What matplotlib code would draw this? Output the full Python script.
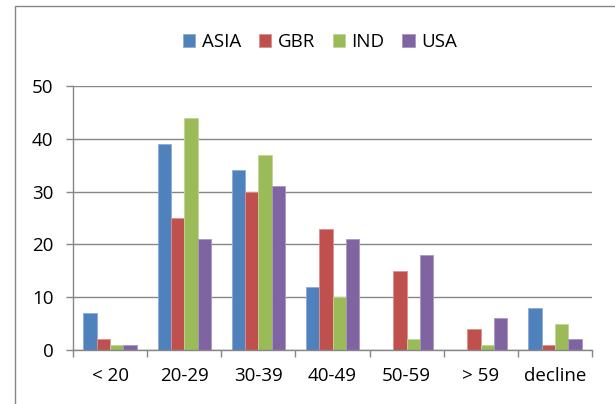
import matplotlib
matplotlib.use("Agg")
import matplotlib.pyplot as plt
import numpy as np
from matplotlib.patches import Rectangle

plt.rcParams['font.family'] = ['Open Sans', 'DejaVu Sans']

categories = ["< 20", "20-29", "30-39", "40-49", "50-59", "> 59", "decline"]
series_names = ["ASIA", "GBR", "IND", "USA"]
asia = [7, 39, 34, 12, 0, 0, 8]
gbr = [2, 25, 30, 23, 15, 4, 1]
ind = [1, 44, 37, 10, 2, 1, 5]
usa = [1, 21, 31, 21, 18, 6, 2]
values = [asia, gbr, ind, usa]
colors = ["#4F81BD", "#C0504D", "#9BBB59", "#8064A2"]
edges = ["#8EAAD8", "#D89290", "#C0D69A", "#A995C4"]
yticks = [0, 10, 20, 30, 40, 50]

W, H = 615, 404
fig = plt.figure(figsize=(W / 100, H / 100), dpi=100)
ax = fig.add_axes([73 / W, 1 - 350 / H, (592 - 73) / W, (350 - 86) / H])

x = np.arange(len(categories))
bw = 0.18
for i, (vals, c, e, name) in enumerate(zip(values, colors, edges, series_names)):
    ax.bar(x + (i - 1.5) * bw, vals, width=bw, color=c, edgecolor=e,
           linewidth=0.6, label=name, zorder=3)

ax.set_xlim(-0.5, len(categories) - 0.5)
ax.set_ylim(0, 50)
ax.set_yticks(yticks)
ax.set_xticks(np.arange(len(categories) + 1) - 0.5, minor=True)
ax.set_xticks(x)
ax.set_xticklabels(categories)
ax.tick_params(axis='x', which='major', length=0, pad=12, labelsize=13.5)
ax.tick_params(axis='x', which='minor', length=5, width=1, color='#868686')
ax.tick_params(axis='y', length=5, width=1, color='#868686', pad=9, labelsize=13.5)
ax.grid(axis='y', color='#868686', linewidth=1, zorder=0)
for s in ['top', 'right']:
    ax.spines[s].set_visible(False)
for s in ['left', 'bottom']:
    ax.spines[s].set_color('#868686')
    ax.spines[s].set_linewidth(1)
    ax.spines[s].set_zorder(4)

handles, labels = ax.get_legend_handles_labels()
fig.legend(handles, labels, loc='center', bbox_to_anchor=(320 / W, 1 - 42 / H),
           ncol=4, frameon=False, fontsize=13.5, handlelength=0.65, handleheight=0.65,
           handletextpad=0.35, columnspacing=0.95)

fig.patches.append(Rectangle((15 / W, -0.1), 1.2, 1 - 6 / H + 0.1,
                             transform=fig.transFigure, fill=False,
                             edgecolor='#868686', linewidth=1))

fig.savefig("out.png", dpi=100, facecolor='white')
